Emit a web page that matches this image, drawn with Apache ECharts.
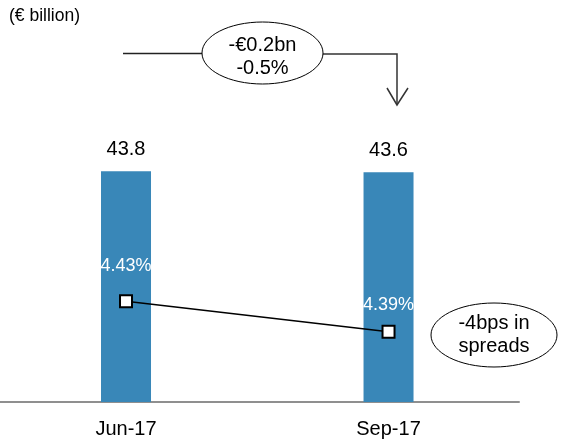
<!DOCTYPE html>
<html>
<head>
<meta charset="utf-8">
<script src="https://cdn.jsdelivr.net/npm/echarts@6/dist/echarts.min.js"></script>
<style>
html,body{margin:0;padding:0;background:#fff;}
#chart{width:562px;height:447px;}
</style>
</head>
<body>
<div id="chart"></div>
<script>
var categories = ['Jun-17', 'Sep-17'];
var balances = [43.8, 43.6];
var spreads = [4.43, 4.39];
var spreadLabelOffsets = [-35, -27];
var unitLabel = '(€ billion)';
var changeLabel = '-€0.2bn\n-0.5%';
var spreadChangeLabel = '-4bps in\nspreads';

var FONT = 'Liberation Sans, Arial, sans-serif';
var chart = echarts.init(document.getElementById('chart'), null, {renderer: 'canvas'});

var catIdx = categories.map(function (c, i) { return i; });

var barData = balances.map(function (v, i) { return [i, v]; });
var lineData = spreads.map(function (v, i) {
  return {
    value: [i, v],
    label: {offset: [0, spreadLabelOffsets[i]]}
  };
});

var option = {
  animation: false,
  backgroundColor: '#ffffff',
  grid: {left: 0, right: 43, top: 86, bottom: 45, containLabel: false},
  xAxis: {
    type: 'value',
    min: -0.48,
    max: 1.497,
    splitLine: {show: false},
    axisLine: {show: true, onZero: false, lineStyle: {color: '#8f8f8f', width: 2}},
    axisTick: {show: false},
    axisLabel: {
      color: '#000', fontSize: 20, fontFamily: FONT, margin: 17,
      customValues: catIdx,
      formatter: function (v) { return categories[Math.round(v)]; }
    }
  },
  yAxis: [
    {type: 'value', min: 0, max: 60, show: false},
    {type: 'value', min: 4.298, max: 4.7124, show: false}
  ],
  series: [
    {
      type: 'bar',
      data: barData,
      barWidth: 50,
      itemStyle: {color: '#3987B8'},
      label: {
        show: true,
        position: 'top',
        distance: 12,
        color: '#000',
        fontSize: 20,
        fontFamily: FONT,
        formatter: function (p) { return p.value[1].toFixed(1); }
      },
      z: 2
    },
    {
      type: 'line',
      yAxisIndex: 1,
      data: lineData,
      symbol: 'rect',
      symbolSize: 12,
      lineStyle: {color: '#000', width: 1.5},
      itemStyle: {color: '#fff', borderColor: '#000', borderWidth: 2},
      label: {
        show: true,
        position: 'inside',
        color: '#fff',
        fontSize: 18,
        fontFamily: FONT,
        formatter: function (p) { return p.value[1].toFixed(2) + '%'; }
      },
      z: 5
    }
  ],
  graphic: [
    {
      type: 'text', left: 9, top: 7,
      style: {text: unitLabel, fill: '#000', font: '17.5px ' + FONT}
    },
    {
      type: 'polyline',
      shape: {points: [[123, 53.5], [202, 53.5]]},
      style: {stroke: '#222', lineWidth: 1.5, fill: null}
    },
    {
      type: 'polyline',
      shape: {points: [[323, 54], [397, 54], [397, 105]]},
      style: {stroke: '#333', lineWidth: 1.5, fill: null}
    },
    {
      type: 'polyline',
      shape: {points: [[387, 88], [397, 105], [408, 88]]},
      style: {stroke: '#333', lineWidth: 1.5, fill: null}
    },
    {
      type: 'ellipse',
      shape: {cx: 262.5, cy: 53, rx: 60.5, ry: 31},
      style: {stroke: '#000', lineWidth: 1, fill: '#fff'}
    },
    {
      type: 'text', x: 262.5, y: 56.5,
      style: {text: changeLabel, fill: '#000', font: '20px ' + FONT,
        textAlign: 'center', textVerticalAlign: 'middle', lineHeight: 23}
    },
    {
      type: 'ellipse',
      shape: {cx: 494, cy: 335, rx: 63, ry: 32},
      style: {stroke: '#000', lineWidth: 1, fill: '#fff'}
    },
    {
      type: 'text', x: 494, y: 335,
      style: {text: spreadChangeLabel, fill: '#000', font: '20px ' + FONT,
        textAlign: 'center', textVerticalAlign: 'middle', lineHeight: 23}
    }
  ]
};
chart.setOption(option);
</script>
</body>
</html>
